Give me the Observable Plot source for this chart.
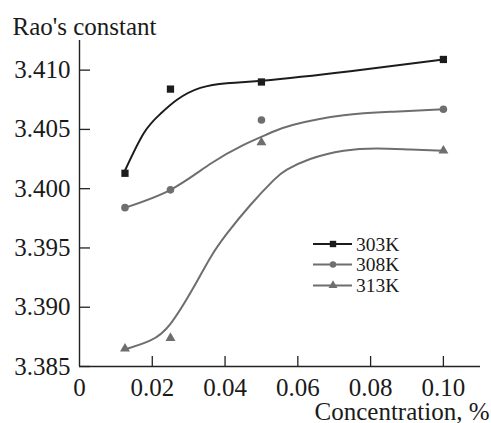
<!DOCTYPE html>
<html><head><meta charset="utf-8">
<script src="https://cdn.jsdelivr.net/npm/d3@7"></script>
<script src="https://cdn.jsdelivr.net/npm/@observablehq/plot@0.6"></script>
<style>
html,body{margin:0;padding:0;background:#fff;}
#chart{position:relative;width:491px;height:423px;}
#chart svg{display:block;}
</style></head><body><div id="chart"></div>
<script>
// ---- data ----
const concentrations = [0.0125, 0.025, 0.05, 0.10];
const seriesNames = ["303K", "308K", "313K"];
const rao303 = [3.4013, 3.4084, 3.4090, 3.4109];
const rao308 = [3.3984, 3.3999, 3.4058, 3.4067];
const rao313 = [3.3865, 3.3874, 3.4039, 3.4032];

// smooth fitted curves
const fit303x = [0.0126, 0.0177, 0.0222, 0.0268, 0.0332, 0.0405, 0.0502, 0.0744, 0.1000];
const fit303y = [3.4016, 3.4047, 3.4063, 3.4075, 3.4085, 3.4089, 3.4091, 3.4099, 3.4109];
const fit308x = [0.0126, 0.0250, 0.0360, 0.0451, 0.0524, 0.0588, 0.0726, 0.0863, 0.1000];
const fit308y = [3.3984, 3.3999, 3.4021, 3.4037, 3.4047, 3.4054, 3.4062, 3.4065, 3.4067];
const fit313x = [0.0131, 0.0195, 0.0250, 0.0314, 0.0360, 0.0405, 0.0469, 0.0533, 0.0570, 0.0634, 0.0726, 0.0817, 0.0909, 0.1000];
const fit313y = [3.3865, 3.3872, 3.3886, 3.3917, 3.3942, 3.3962, 3.3986, 3.4007, 3.4016, 3.4025, 3.4032, 3.4034, 3.4033, 3.4032];

const xTicks = [0, 0.02, 0.04, 0.06, 0.08, 0.10];
const xTickLabels = ["0", "0.02", "0.04", "0.06", "0.08", "0.10"];
const yTicks = [3.385, 3.390, 3.395, 3.400, 3.405, 3.410];
const yTickLabels = ["3.385", "3.390", "3.395", "3.400", "3.405", "3.410"];
const titleText = "Rao's constant";
const xLabelText = "Concentration, %";

// ---- styling ----
const BLACK = "#1c1c1c", GRAY = "#6e6e70";
const seriesStyle = {
  "303K": {color: BLACK, symbol: "square", r: 4.1, lr: 3.6, d3sym: d3.symbolSquare},
  "308K": {color: GRAY, symbol: "circle", r: 3.8, lr: 3.2, d3sym: d3.symbolCircle},
  "313K": {color: GRAY, symbol: "triangle", r: 3.7, lr: 3.3, d3sym: d3.symbolTriangle}
};

const values = [rao303, rao308, rao313];
const fitsX = [fit303x, fit308x, fit313x];
const fitsY = [fit303y, fit308y, fit313y];

const points = seriesNames.flatMap((s, si) => concentrations.map((c, i) => ({series: s, x: c, y: values[si][i]})));

const lineMarks = seriesNames.map((s, si) =>
  Plot.line(fitsX[si].map((x, i) => ({x, y: fitsY[si][i]})), {
    x: "x", y: "y", curve: "natural", stroke: seriesStyle[s].color, strokeWidth: 2
  })
);
const dotMarks = seriesNames.map(s =>
  Plot.dot(points.filter(p => p.series === s), {
    x: "x", y: "y", symbol: seriesStyle[s].symbol, r: seriesStyle[s].r, fill: seriesStyle[s].color, stroke: "none"
  })
);

const plot = Plot.plot({
  width: 491, height: 423,
  marginLeft: 79, marginRight: 11, marginTop: 40, marginBottom: 57,
  style: {fontSize: "25px", color: "#1a1a1a", background: "#fff"},
  x: {domain: [0, 0.1102]},
  y: {domain: [3.385, 3.4125]},
  marks: [
    Plot.axisX(xTicks, {tickSize: 0, tickPadding: 12, tickFormat: d => xTickLabels[xTicks.indexOf(d)], label: null, fill: "#1a1a1a"}),
    Plot.axisY(yTicks, {tickSize: 0, tickPadding: 9, tickFormat: d => yTickLabels[yTicks.indexOf(d)], label: null, fill: "#1a1a1a"}),
    Plot.tickY(yTicks, {y: d => d, insetRight: 390, stroke: "#222", strokeWidth: 1.3}),
    Plot.tickX(xTicks.slice(1), {x: d => d, insetTop: 316, stroke: "#222", strokeWidth: 1.3}),
    Plot.ruleX([0], {stroke: "#222", strokeWidth: 1.4}),
    Plot.ruleY([3.385], {stroke: "#222", strokeWidth: 1.4}),
    ...lineMarks,
    ...dotMarks,
    Plot.text([titleText], {text: d => d, frameAnchor: "top-left", dx: -67, dy: -6, lineAnchor: "bottom", textAnchor: "start", fontSize: 25, fill: "#1a1a1a"}),
    Plot.text([xLabelText], {text: d => d, frameAnchor: "bottom-right", dx: 9, dy: 53, lineAnchor: "bottom", textAnchor: "end", fontSize: 25, fill: "#1a1a1a"})
  ]
});
// drop Plot's default sans-serif so the text uses the default (Times-like) serif face
plot.removeAttribute("font-family");
plot.style.removeProperty("font-family");
plot.querySelectorAll("[font-family]").forEach(e => e.removeAttribute("font-family"));

const chart = document.getElementById("chart");
chart.append(plot);

// ---- legend overlay ----
const legendRowsY = [244, 264.5, 285.5];
const leg = d3.select(chart).append("svg")
  .attr("width", 491).attr("height", 423)
  .style("position", "absolute").style("left", "0px").style("top", "0px");
seriesNames.forEach((s, i) => {
  const st = seriesStyle[s], y = legendRowsY[i];
  leg.append("line").attr("x1", 313).attr("x2", 352).attr("y1", y).attr("y2", y)
    .attr("stroke", st.color).attr("stroke-width", 2);
  leg.append("path").attr("transform", `translate(333,${y})`)
    .attr("d", d3.symbol(st.d3sym, Math.PI * st.lr * st.lr)()).attr("fill", st.color);
  leg.append("text").attr("x", 356).attr("y", y + 6.5)
    .style("font-size", "19.5px").attr("fill", "#1a1a1a").text(s);
});
</script></body></html>
